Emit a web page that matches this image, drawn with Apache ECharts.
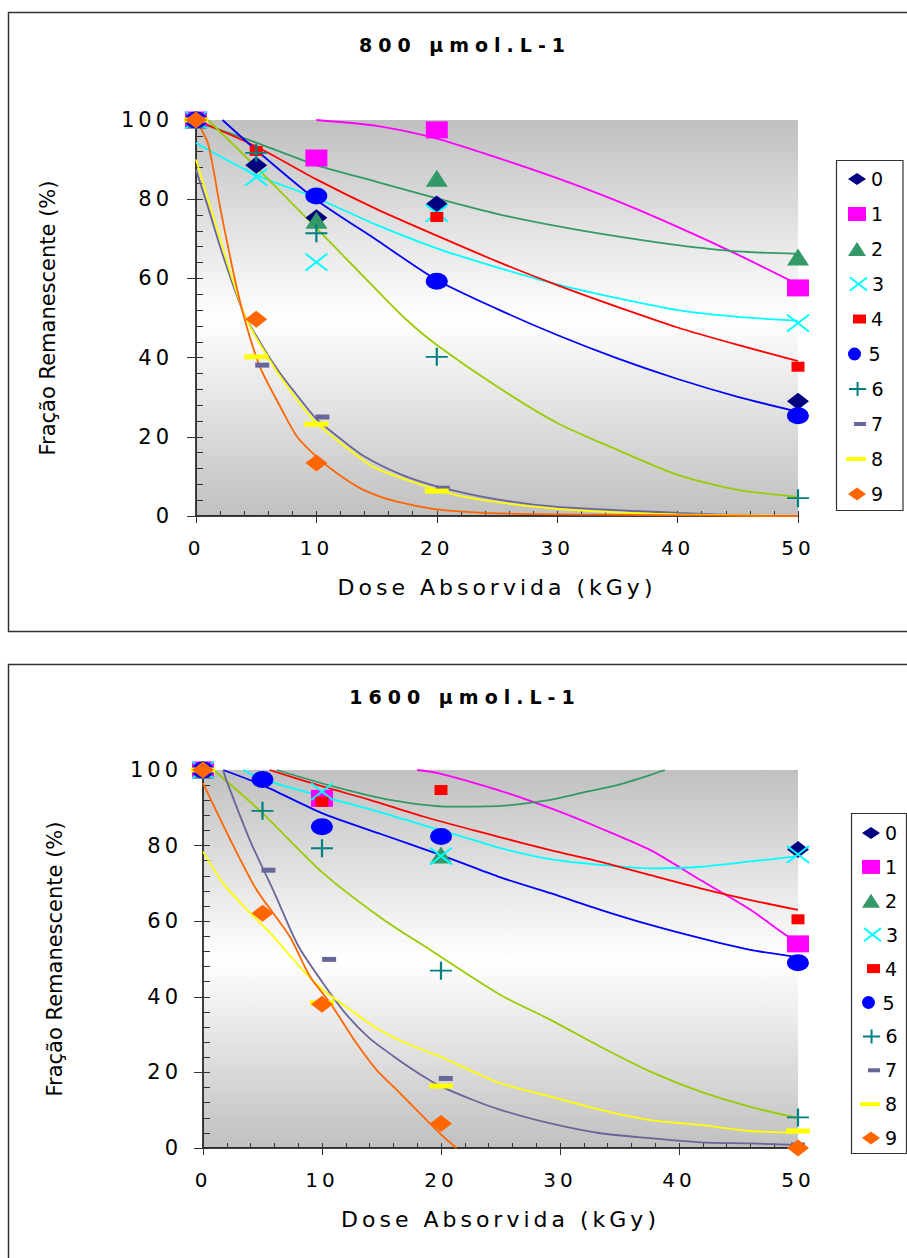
<!DOCTYPE html>
<html>
<head>
<meta charset="utf-8">
<title>Fração Remanescente</title>
<script src="https://cdn.jsdelivr.net/npm/echarts@6/dist/echarts.min.js"></script>
<style>
html, body { margin: 0; padding: 0; background: #fff; }
#main { width: 907px; height: 1258px; }
</style>
</head>
<body>
<div id="main"></div>
<script>
// dados
var nomes = ['0', '1', '2', '3', '4', '5', '6', '7', '8', '9'];
var corMarca = ['#000080', '#ff00ff', '#339966', '#00ffff', '#ff0000', '#0000ff', '#008080', '#666699', '#ffff00', '#ff6600'];
var corTend = [null, '#ff00ff', '#339966', '#00ffff', '#ff0000', '#0000ff', '#99cc00', '#666699', '#ffff00', '#ff6600'];
var titulos = ['800 µmol.L-1', '1600 µmol.L-1'];
var eixoX = 'Dose Absorvida (kGy)';
var eixoY = 'Fração Remanescente (%)';

var pontos800 = [
  [[0, 100], [5, 88.6], [10, 75.3], [20, 78.8], [50, 29]],
  [[0, 100], [10, 90.4], [20, 97.5], [50, 57.6]],
  [[0, 100], [10, 74.7], [20, 85.3], [50, 65.4]],
  [[0, 100], [5, 85.6], [10, 64.1], [20, 76.5], [50, 48.7]],
  [[0, 100], [5, 92.2], [20, 75.5], [50, 37.7]],
  [[0, 100], [10, 80.8], [20, 59.3], [50, 25.3]],
  [[0, 100], [5, 91.7], [10, 71.4], [20, 40.2], [50, 4.5]],
  [[0, 100], [5.5, 38.1], [10.5, 25], [20.5, 7]],
  [[0, 100], [5, 40.2], [10, 23.2], [20, 6.3]],
  [[0, 100], [5, 49.7], [10, 13.4]]
];
var tend800 = [
  null,
  [[10, 100], [15, 98.5], [20, 95.3], [25, 90.5], [30, 85.3], [35, 79.5], [40, 73], [45, 66], [50, 58.5]],
  [[0, 99.6], [5, 94.3], [10, 88.6], [15, 84.4], [20, 80.2], [25, 76.3], [30, 73.2], [35, 70.6], [40, 68.4], [45, 66.8], [50, 66.2]],
  [[0, 94.2], [5, 86.1], [10, 80.3], [15, 73.5], [20, 67.6], [25, 62.8], [30, 58.5], [35, 55], [40, 52], [45, 50.3], [50, 49.3]],
  [[0, 100], [5, 93.3], [10, 85], [15, 77.5], [20, 70.8], [25, 64.3], [30, 58.3], [35, 52.8], [40, 47.6], [45, 43.2], [50, 39.1]],
  [[2.2, 100], [5, 92.4], [10, 79.8], [15, 69.7], [20, 59.6], [25, 52.3], [30, 45.7], [35, 39.8], [40, 34.6], [45, 30.1], [50, 26.3]],
  [[1, 100], [5, 88.1], [10, 72.7], [15, 57.1], [17.5, 49.5], [20, 43.2], [25, 32.7], [30, 23.5], [35, 16.7], [40, 10.4], [45, 6.6], [50, 4.8]],
  [[0, 87.4], [1, 78], [2, 68], [3, 59], [4, 51], [5, 45.5], [6, 40.5], [7, 36], [8, 32], [10, 24.5], [12, 19.5], [14, 15], [17, 10.5], [20, 7.5], [25, 4.2], [30, 2.3], [40, 0.8], [47, 0]],
  [[0, 90], [1, 80], [2, 70], [3, 60], [4, 51], [5, 45], [6, 40], [7, 35.2], [8.4, 29.3], [10, 23.5], [11.7, 19.2], [13.1, 15.9], [14.7, 12.4], [17.5, 9.1], [20, 6.6], [22.2, 4.9], [25, 3.5], [30, 1.8], [35, 0.9], [40, 0.4], [50, 0]],
  [[0, 100], [1, 94], [2, 78], [3, 63], [3.9, 51.2], [5.3, 37.7], [7, 27.6], [8.4, 20], [10, 15], [11.7, 10.8], [13.9, 6.6], [16.7, 3.6], [20.5, 1.5], [26, 0.6], [35, 0.3], [50, 0]]
];

var pontos1600 = [
  [[0, 100], [50, 79]],
  [[0, 100], [10, 92.5], [50, 54]],
  [[0, 100], [20, 77.5]],
  [[0, 100], [10, 94.3], [20, 77.2], [50, 77.7]],
  [[0, 100], [10, 91.6], [20, 94.7], [50, 60.5]],
  [[0, 100], [5, 97.5], [10, 85], [20, 82.4], [50, 49]],
  [[0, 100], [5, 89.2], [10, 79.3], [20, 46.9], [50, 8.1]],
  [[0, 100], [5.5, 73.5], [10.6, 49.9], [20.4, 18.4], [50, 0.8]],
  [[0, 100], [10, 38.4], [20, 16.4], [50, 4.5]],
  [[0, 100], [5, 62.1], [10, 38], [20, 6.5], [50, 0]]
];
var tend1600 = [
  null,
  [[18, 100], [20, 99], [25, 94.5], [29.2, 89.9], [33.4, 84.6], [37.6, 78.8], [41.8, 70.9], [46, 63], [49, 56.3], [50, 54.5]],
  [[6.2, 100], [11, 95.6], [15.7, 92.1], [20.8, 90.3], [25, 90.5], [29.2, 92.1], [31.9, 94], [34.8, 96], [37.6, 98.7], [38.8, 100]],
  [[3.4, 100], [5, 97.5], [10, 93], [14.3, 89.4], [18.5, 85.4], [22.7, 81.5], [25, 79.3], [29.2, 76.4], [33.4, 74.9], [37.6, 74], [41.8, 74.4], [46, 75.8], [50, 77.2]],
  [[5.6, 100], [10.1, 95.6], [14, 92.1], [18.5, 87.7], [22.7, 84.1], [25, 82.2], [29.2, 78.8], [33.4, 75.7], [37.6, 72.2], [41.8, 68.7], [46, 65.6], [50, 63]],
  [[1.7, 100], [5, 96], [10, 88.6], [15, 83], [20, 77.5], [25, 71.6], [29.2, 67.4], [33.4, 63], [37.6, 59], [41.8, 55.5], [46, 52.4], [50, 50.5]],
  [[0.9, 100], [5, 88.6], [10, 73], [15, 60.8], [19.1, 52.4], [25, 40.5], [29.2, 33.9], [33.4, 26.8], [37.6, 20.2], [41.8, 14.9], [46, 10.9], [50, 7.9]],
  [[1.7, 100], [2, 97], [4, 81], [6, 67.5], [8, 53.5], [10, 44], [12, 35.5], [14, 29], [16, 24.3], [18, 20], [20, 16.3], [22.7, 12.7], [25, 10.1], [29.2, 6.5], [33.4, 3.9], [37.6, 2.6], [41.8, 1.5], [46, 1.2], [50, 0.8]],
  [[0, 78.4], [1.7, 70], [3.4, 64], [5.9, 56], [8.4, 47], [10.1, 41.8], [12.4, 36.5], [14.6, 31.7], [17.1, 27.7], [19.9, 24.2], [22.7, 20.2], [25, 17.1], [29.2, 13.6], [33.4, 10.1], [37.6, 7.4], [41.8, 6.1], [46, 4.5], [50, 4]],
  [[0, 96.5], [2.3, 81.5], [4.5, 68.3], [7.3, 55.9], [9, 45.3], [10.7, 38.3], [12.9, 27.7], [14.6, 20.6], [16.3, 15.3], [18.5, 8.3], [20.2, 3], [21.3, 0]]
];

// aparência
var FONT = 'DejaVu Sans';
var X_PATH = 'path://M0,0L22,17M22,0L0,17';
var PLUS_PATH = 'path://M11,0L11,18M0,9L22,9';
var OVAL = 'path://M0,1A1,1,0,1,0,2,1A1,1,0,1,0,0,1Z';
var simbolos = ['diamond', 'rect', 'triangle', X_PATH, 'rect', OVAL, PLUS_PATH, 'rect', 'rect', 'diamond'];
var tamanhos = [[22, 17], [22, 17], [22, 17], [22, 17], [13, 10], [22, 17], [22, 18], [14, 5], [24, 5], [22, 17]];
var tamLegenda = [[18, 12], [18, 14], [18, 14], [17, 14], [13, 9], [18, 13], [18, 14], [12, 4], [20, 4], [18, 13]];
var contorno = [0, 0, 0, 2, 0, 0, 2, 0, 0, 0];

var paineis = [
  {
    grid: {left: 196, top: 120, width: 602, height: 396}, yMargin: 23,
    box: [8.5, 12.5, 910, 619], title: [465, 45],
    legBox: [836.5, 160.5, 66.5, 350], legRight: 866, legTop: 179, legStep: 35,
    pontos: pontos800, tend: tend800
  },
  {
    grid: {left: 203, top: 770, width: 595, height: 378}, yMargin: 21,
    box: [8.5, 664.5, 910, 700], title: [465, 697],
    legBox: [851.5, 813.5, 55, 340], legRight: 880, legTop: 833, legStep: 33.9,
    pontos: pontos1600, tend: tend1600
  }
];

var fundo = {
  type: 'linear', x: 0, y: 0, x2: 0, y2: 1,
  colorStops: [{offset: 0, color: '#c0c0c0'}, {offset: 0.5, color: '#ffffff'}, {offset: 1, color: '#c0c0c0'}]
};

var option = {animation: false, grid: [], xAxis: [], yAxis: [], legend: [], series: [], graphic: []};

paineis.forEach(function (p, k) {
  option.grid.push({
    left: p.grid.left, top: p.grid.top, width: p.grid.width, height: p.grid.height,
    show: true, backgroundColor: fundo, borderWidth: 0
  });

  option.xAxis.push({
    type: 'value', gridIndex: k, min: 0, max: 50, interval: 10, position: 'bottom',
    axisLine: {show: true, onZero: false, lineStyle: {color: '#000', width: 1.5}},
    axisTick: {show: true, inside: true, length: 5, lineStyle: {color: '#333'}},
    minorTick: {show: true, splitNumber: 5, length: 5, lineStyle: {color: '#333'}},
    splitLine: {show: false},
    axisLabel: {margin: 22, color: '#000', fontFamily: FONT, fontSize: 20},
    name: eixoX, nameLocation: 'middle', nameGap: 60,
    nameTextStyle: {color: '#000', fontFamily: FONT, fontSize: 22}
  });
  option.xAxis.push({
    type: 'value', gridIndex: k, min: 0, max: 50, interval: 10, position: 'bottom',
    axisLine: {show: false}, axisLabel: {show: false}, splitLine: {show: false},
    axisTick: {show: true, inside: false, length: 7, lineStyle: {color: '#333'}}
  });

  option.yAxis.push({
    type: 'value', gridIndex: k, min: 0, max: 100, interval: 20, position: 'left',
    axisLine: {show: true, onZero: false, lineStyle: {color: '#000', width: 1.5}},
    axisTick: {show: true, inside: true, length: 7, lineStyle: {color: '#333'}},
    minorTick: {show: true, splitNumber: 5, length: 7, lineStyle: {color: '#333'}},
    splitLine: {show: false},
    axisLabel: {margin: p.yMargin, color: '#000', fontFamily: FONT, fontSize: 21},
    name: eixoY, nameLocation: 'middle', nameGap: 138,
    nameTextStyle: {color: '#000', fontFamily: FONT, fontSize: 21}
  });
  option.yAxis.push({
    type: 'value', gridIndex: k, min: 0, max: 100, interval: 20, position: 'left',
    axisLine: {show: false}, axisLabel: {show: false}, splitLine: {show: false},
    axisTick: {show: true, inside: false, length: 9, lineStyle: {color: '#333'}}
  });

  // linhas de tendência
  p.tend.forEach(function (d, i) {
    if (!d) return;
    option.series.push({
      type: 'line', name: 'tend-' + k + '-' + i,
      xAxisIndex: 2 * k, yAxisIndex: 2 * k,
      data: d, symbol: 'none', smooth: 0.25, silent: true, z: 2,
      lineStyle: {color: corTend[i], width: 1.8}
    });
  });

  // pontos medidos
  p.pontos.forEach(function (d, i) {
    option.series.push({
      type: 'scatter', name: nomes[i],
      xAxisIndex: 2 * k, yAxisIndex: 2 * k,
      data: d, symbol: simbolos[i], symbolSize: tamanhos[i], clip: false, z: 3,
      itemStyle: {color: corMarca[i], borderColor: corMarca[i], borderWidth: contorno[i], opacity: 1}
    });
  });

  // legenda, um item por componente para ter tamanhos próprios
  nomes.forEach(function (n, i) {
    option.legend.push({
      data: [{
        name: n, icon: simbolos[i],
        itemStyle: {color: corMarca[i], borderColor: corMarca[i], borderWidth: contorno[i]}
      }],
      orient: 'vertical', selectedMode: false, padding: 0, itemGap: 0,
      left: p.legRight - tamLegenda[i][0],
      top: p.legTop + p.legStep * i - 10,
      itemWidth: tamLegenda[i][0], itemHeight: tamLegenda[i][1],
      textStyle: {color: '#000', fontFamily: FONT, fontSize: 19, lineHeight: 20}
    });
  });

  option.graphic.push({
    type: 'rect', silent: true, z: 0,
    shape: {x: p.box[0], y: p.box[1], width: p.box[2], height: p.box[3]},
    style: {fill: 'none', stroke: '#333', lineWidth: 1.5}
  });
  option.graphic.push({
    type: 'rect', silent: true, z: 0,
    shape: {x: p.legBox[0], y: p.legBox[1], width: p.legBox[2], height: p.legBox[3]},
    style: {fill: 'none', stroke: '#333', lineWidth: 1.2}
  });
  option.graphic.push({
    type: 'text', silent: true, x: p.title[0], y: p.title[1],
    style: {
      text: titulos[k], fill: '#000', font: 'bold 19px "DejaVu Sans"',
      textAlign: 'center', textVerticalAlign: 'middle', verticalAlign: 'middle'
    }
  });
});

var chart = echarts.init(document.getElementById('main'), null, {renderer: 'svg'});
chart.setOption(option);

// espaçamento das letras como no original
function espacar() {
  var texts = document.querySelectorAll('#main svg text');
  Array.prototype.forEach.call(texts, function (t) {
    var s = t.textContent;
    if (/^\d+$/.test(s) || s === eixoX) {
      t.style.letterSpacing = '4px';
    } else if (s.indexOf('mol') >= 0) {
      t.style.letterSpacing = '6px';
    }
  });
}
espacar();
chart.on('finished', espacar);
</script>
</body>
</html>
